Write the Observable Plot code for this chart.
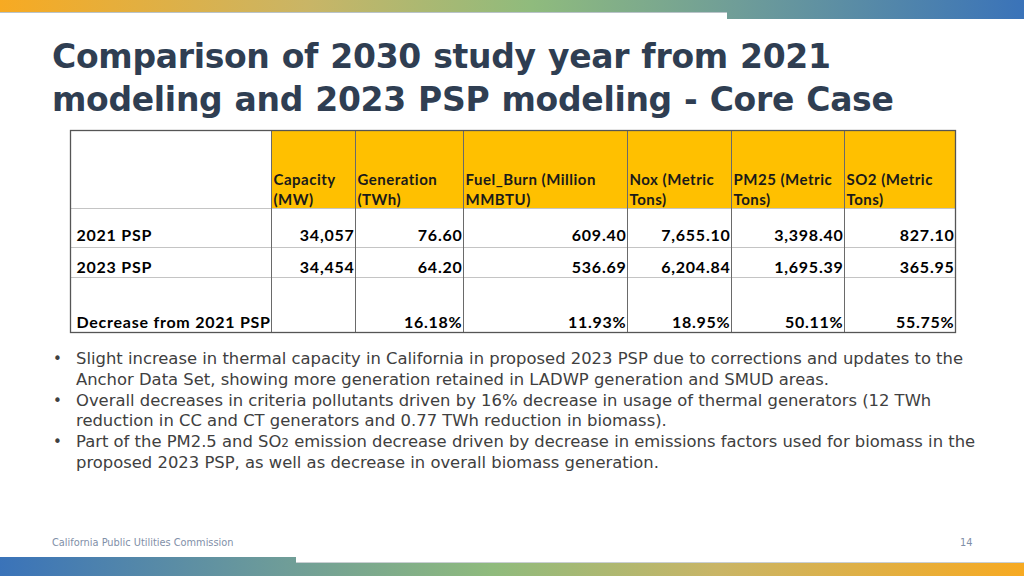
<!DOCTYPE html>
<html>
<head>
<meta charset="utf-8">
<script src="https://cdn.jsdelivr.net/npm/d3@7"></script>
<script src="https://cdn.jsdelivr.net/npm/@observablehq/plot@0.6"></script>
<style>
  html, body { margin: 0; padding: 0; background: #fff; }
  body { width: 1024px; height: 576px; position: relative; overflow: hidden; }
  .abs { position: absolute; }
  #topbar { left: 0; top: 0; width: 1024px; height: 19px;
    background: linear-gradient(90deg, #f7aa22 0%, #c9b566 30%, #8fbb7d 52%, #6f9d98 72%, #3a73b9 100%); }
  #topmask { left: 0; top: 12px; width: 727px; height: 7px; background: #fff; border-top: 1px solid #b9c3c9; box-sizing: border-box; }
  #botbar { left: 0; top: 557px; width: 1024px; height: 19px;
    background: linear-gradient(90deg, #3a73b9 0%, #6f9d98 28%, #8fbb7d 48%, #c9b566 70%, #f7aa22 100%); }
  #botmask { left: 296px; top: 557px; width: 728px; height: 6px; background: #fff; border-bottom: 1px solid #c9cfd3; box-sizing: border-box; }
  #title { left: 52px; top: 35px; font-family: "DejaVu Sans", sans-serif; font-weight: bold;
    font-size: 33px; line-height: 43px; color: #2f3e52; white-space: nowrap; letter-spacing: -0.3px; word-spacing: 1px; }
  #table { left: 0; top: 125px; }
  #bullets { left: 0; top: 349px; width: 1024px; font-family: "DejaVu Sans", sans-serif; font-size: 16.4px;
    line-height: 20.8px; color: #404040; }
  .item { position: relative; padding-left: 76px; white-space: nowrap; }
  .item .dot { position: absolute; left: 53px; top: 0; font-size: 15px; }
  .sub { font-size: 12px; line-height: 0; }
  #footer { left: 52px; top: 537px; font-family: "DejaVu Sans", sans-serif; font-size: 9.8px; color: #7f8fa8; }
  #pagenum { left: 960px; top: 537px; font-family: "DejaVu Sans", sans-serif; font-size: 9.8px; color: #7f8fa8; }
</style>
</head>
<body>
<div id="topbar" class="abs"></div>
<div id="topmask" class="abs"></div>
<div id="title" class="abs">Comparison of 2030 study year from 2021<br>modeling and 2023 PSP modeling - Core Case</div>
<div id="table" class="abs"></div>
<div id="bullets" class="abs"></div>
<div id="footer" class="abs">California Public Utilities Commission</div>
<div id="pagenum" class="abs">14</div>
<div id="botbar" class="abs"></div>
<div id="botmask" class="abs"></div>
<script>
// ---- data ----
const headers = ["Capacity\n(MW)", "Generation\n(TWh)", "Fuel_Burn (Million\nMMBTU)", "Nox (Metric\nTons)", "PM25 (Metric\nTons)", "SO2 (Metric\nTons)"];
const rowLabels = ["2021 PSP", "2023 PSP", "Decrease from 2021 PSP"];
const psp2021 = [34057, 76.60, 609.40, 7655.10, 3398.40, 827.10];
const psp2023 = [34454, 64.20, 536.69, 6204.84, 1695.39, 365.95];
const decreasePct = [null, 16.18, 11.93, 18.95, 50.11, 55.75];
const bulletLines = [
  ["Slight increase in thermal capacity in California in proposed 2023 PSP due to corrections and updates to the",
   "Anchor Data Set, showing more generation retained in LADWP generation and SMUD areas."],
  ["Overall decreases in criteria pollutants driven by 16% decrease in usage of thermal generators (12 TWh",
   "reduction in CC and CT generators and 0.77 TWh reduction in biomass)."],
  ["Part of the PM2.5 and SO<span class=\"sub\">2</span> emission decrease driven by decrease in emissions factors used for biomass in the",
   "proposed 2023 PSP, as well as decrease in overall biomass generation."]
];

// ---- layout (table geometry in column / row units) ----
const colWidths = [201, 84, 108, 164, 104, 113, 111];
const rowHeights = [78, 39, 30, 55];
const rowTextLift = [7, 5, 5];

const colEdges = d3.cumsum([0, ...colWidths]);
const rowEdges = d3.cumsum([0, ...rowHeights]);
const totalW = colEdges[colEdges.length - 1];
const totalH = rowEdges[rowEdges.length - 1];

const fmtInt = d3.format(",.0f");
const fmt2 = d3.format(",.2f");
const fmtPct = v => v == null ? "" : d3.format(".2f")(v) + "%";

const headerCells = headers.map((h, i) => ({label: h, x1: colEdges[i + 1], x2: colEdges[i + 2]}));
const series = [psp2021, psp2023, decreasePct];
const valueCells = [];
series.forEach((vals, r) => vals.forEach((v, c) => {
  const t = r === 2 ? fmtPct(v) : (c === 0 ? fmtInt(v) : fmt2(v));
  valueCells.push({text: t, x: colEdges[c + 2], y: rowEdges[r + 2] - rowTextLift[r]});
}));
const labelCells = rowLabels.map((l, r) => ({text: l, x: colEdges[0], y: rowEdges[r + 2] - rowTextLift[r]}));

const chart = Plot.plot({
  width: 1024, height: 212,
  marginLeft: 70, marginRight: 69, marginTop: 5, marginBottom: 5,
  x: {type: "linear", domain: [0, totalW], axis: null},
  y: {type: "linear", domain: [0, totalH], reverse: true, axis: null},
  style: {fontFamily: "Lato, sans-serif", fontSize: "15px", color: "#000", background: "transparent", overflow: "visible"},
  marks: [
    Plot.rect(headerCells, {x1: "x1", x2: "x2", y1: 0, y2: rowHeights[0], fill: "#ffc000"}),
    Plot.ruleY(rowEdges.slice(1, -1), {x1: 0, x2: totalW, stroke: "#c4c4c4", strokeWidth: 1.2}),
    Plot.ruleX(colEdges.slice(1, -1), {y1: 0, y2: totalH, stroke: "#6a6a6a", strokeWidth: 1}),
    Plot.frame({stroke: "#555", strokeWidth: 1.3}),
    Plot.text(headerCells, {x: "x1", y: rowHeights[0], text: "label", textAnchor: "start", lineAnchor: "bottom",
      dx: 2, dy: -4, lineHeight: 1.3, fontWeight: "bold", fontSize: 15, fill: "#1a1a1a", className: "hdr"}),
    Plot.text(labelCells, {x: "x", y: "y", text: "text", textAnchor: "start", lineAnchor: "bottom",
      dx: 6, fontWeight: "bold", fontSize: 16, fill: "#000", className: "body"}),
    Plot.text(valueCells, {x: "x", y: "y", text: "text", textAnchor: "end", lineAnchor: "bottom",
      dx: -1, fontWeight: "bold", fontSize: 16, fill: "#000", className: "body"})
  ]
});
document.getElementById("table").appendChild(chart);
d3.select(chart).selectAll(".hdr text").style("letter-spacing", "0.5px");
d3.select(chart).selectAll(".body text").style("letter-spacing", "0.75px");

const bdiv = document.getElementById("bullets");
bulletLines.forEach(lines => {
  const item = document.createElement("div");
  item.className = "item";
  item.innerHTML = '<span class="dot">•</span>' + lines.join("<br>");
  bdiv.appendChild(item);
});
</script>
</body>
</html>
